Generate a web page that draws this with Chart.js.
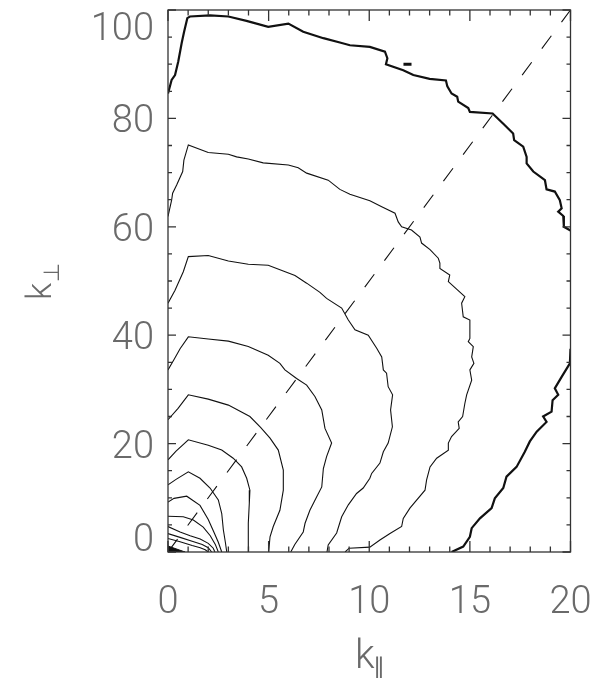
<!DOCTYPE html>
<html>
<head>
<meta charset="utf-8">
<script src="https://cdn.jsdelivr.net/npm/chart.js@4.4.1/dist/chart.umd.min.js"></script>
<style>
  html, body { margin: 0; padding: 0; background: #fff; }
  #wrap { width: 603px; height: 678px; }
</style>
</head>
<body>
<div id="wrap"><canvas id="myChart" width="603" height="678"></canvas></div>
<script>
// tick labels
const xTicks = [0, 5, 10, 15, 20]
const yTicks = [0, 20, 40, 60, 80, 100]

// k_perp = 5 k_par reference line
const diagonal = [[0, 0], [20, 100]]

// thick contours
const thickTop = [[0,84.6],[0.18,87.1],[0.35,88.0],[0.51,90.5],[0.68,93.9],[0.8,96.0],[0.96,98.5],[1.09,98.8],[2.09,99.0],[3.0,98.8],[3.9,98.0],[4.98,96.9],[5.98,97.5],[6.72,96.0],[7.72,94.8],[8.54,94.0],[9.04,93.5],[10.03,93.2],[10.78,92.3],[10.9,91.1],[10.83,90.0],[11.69,88.9],[12.19,88.0],[13.0,87.3],[13.81,87.0],[13.88,85.9],[14.09,84.6],[14.37,84.0],[14.42,83.1],[14.92,81.9],[15.0,81.2],[16.13,80.9],[16.66,79.0],[17.15,77.2],[17.2,76.0],[17.65,74.8],[17.82,72.9],[17.82,71.7],[18.15,70.2],[18.73,68.6],[18.81,66.9],[19.22,66.5],[19.47,64.9],[19.56,63.4],[19.39,62.8],[19.64,62.0],[19.67,60.0],[20,59.3]]
const thickBottom = [[14.09,0],[14.67,1.0],[15.0,2.8],[15.09,4.4],[15.5,6.2],[16.08,8.1],[16.24,9.9],[16.66,11.8],[16.82,13.9],[17.32,15.7],[17.73,18.5],[17.98,20.4],[18.32,22.2],[18.81,24.0],[18.64,25.0],[19.06,25.9],[19.11,28.0],[19.39,29.0],[19.22,30.2],[19.56,32.3],[19.97,34.8],[20,37.5]]
const thickIsland = [[11.7,90.0],[12.1,90.0]]

// thin contours, outer to inner
const contourA = [[0,61.9],[0.18,64.9],[0.23,66.2],[0.43,67.7],[0.73,70.2],[0.79,72.3],[1.01,75.1],[2.0,73.7],[3.0,73.4],[3.41,72.9],[3.99,72.5],[4.73,71.8],[5.98,71.4],[6.47,70.9],[6.89,69.9],[7.96,68.6],[8.54,66.9],[9.04,66.0],[10.03,64.8],[10.62,63.7],[11.28,62.5],[11.44,60.9],[11.61,60.0],[12.1,59.4],[12.52,58.1],[12.6,57.0],[13.02,55.8],[13.43,54.2],[13.51,53.3],[13.51,52.3],[14.0,51.1],[13.93,49.9],[14.75,47.1],[14.59,45.9],[14.67,43.4],[15.0,42.8],[15.0,39.4],[14.92,38.8],[15.17,37.9],[15.09,36.0],[15.2,34.8],[15.0,33.6],[15.09,31.7],[14.84,29.0],[14.75,27.4],[14.64,25.0],[14.42,24.0],[14.47,22.8],[14.09,21.3],[13.93,20.1],[13.93,18.8],[13.35,17.3],[13.02,15.7],[12.85,13.3],[12.77,11.4],[12.02,8.1],[11.69,6.2],[11.61,4.7],[11.03,3.4],[10.53,2.2],[10.03,0.9],[9.0,0.7],[8.8,0]]
const contourB = [[0,45.9],[0.35,48.3],[0.76,51.7],[1.01,54.5],[2.0,54.7],[3.0,53.7],[3.99,53.1],[4.98,52.9],[6.31,51.0],[6.89,49.6],[7.55,47.9],[7.88,46.8],[8.63,45.0],[8.96,42.8],[9.29,41.0],[9.95,40.0],[10.37,37.6],[10.62,36.0],[10.7,33.6],[10.86,33.0],[10.94,30.5],[11.16,29.0],[11.06,26.2],[11.15,23.1],[10.94,20.1],[10.7,18.5],[10.53,16.4],[10.12,14.5],[10.03,13.6],[9.7,11.8],[9.37,10.8],[8.96,8.7],[8.63,6.5],[8.38,3.5],[7.96,1.3],[7.9,0]]
const contourC = [[0,33.6],[0.3,35.5],[0.6,37.5],[1.01,39.7],[2.0,39.3],[3.0,38.9],[3.99,37.9],[4.98,36.3],[5.56,34.8],[5.81,33.6],[6.39,32.0],[6.89,30.8],[7.3,28.7],[7.64,26.2],[7.8,22.8],[8.13,20.1],[7.88,17.6],[7.72,15.4],[7.64,12.0],[7.39,10.2],[7.05,7.7],[6.81,5.3],[6.72,3.7],[6.3,1.4],[6.1,0]]
const contourD = [[0,24.4],[0.5,26.5],[1.01,29.0],[2.0,28.2],[3.0,27.1],[4.07,25.0],[4.6,23.0],[5.07,21.0],[5.48,18.8],[5.73,15.1],[5.73,11.4],[5.56,7.7],[5.23,4.7],[5.07,2.8],[5.0,0]]
const contourE = [[0,17.0],[0.4,18.6],[1.01,20.7],[2.0,19.7],[2.67,18.8],[3.24,17.3],[3.66,15.7],[3.91,13.6],[4.07,11.4],[4.04,9.0],[3.99,5.3],[3.99,0]]
const contourF = [[0,12.4],[0.4,13.4],[1.01,14.8],[1.59,13.6],[2.09,11.8],[2.5,9.6],[2.67,7.1],[2.75,4.1],[2.85,1.8],[2.92,0]]
const contourG = [[0,9.2],[0.3,9.9],[0.93,10.3],[1.59,8.6],[2.0,6.0],[2.3,3.5],[2.5,1.8],[2.67,0]]
const contourH = [[0,6.6],[0.76,6.5],[1.26,5.9],[1.75,4.6],[2.1,3.0],[2.35,1.4],[2.5,0]]
const contourI = [[0,4.7],[0.6,3.7],[1.1,3.0],[1.6,2.4],[2.0,1.6],[2.25,0.7],[2.33,0]]
const contourJ = [[0,3.4],[0.6,2.7],[1.2,2.0],[1.7,1.4],[2.0,0.8],[2.17,0]]
const contourK = [[0,2.5],[0.6,1.9],[1.2,1.2],[1.6,0.8],[1.85,0.4],[2.0,0]]
const originPeak = [[0,0],[0.85,0],[0,1.1],[0,0]]

const toPoints = arr => arr.map(p => ({ x: p[0], y: p[1] }))

function contour(arr, width) {
    return {
        data: toPoints(arr),
        showLine: true,
        borderColor: '#111',
        borderWidth: width,
        pointRadius: 0,
        tension: 0,
        fill: false
    }
}

const thin = [contourA, contourB, contourC, contourD, contourE, contourF, contourG, contourH, contourI, contourJ, contourK]

const datasets = thin.map(c => contour(c, 1.1))
datasets.push(contour(thickTop, 2.2))
datasets.push(contour(thickBottom, 2.2))
datasets.push(contour(thickIsland, 3))
datasets.push(Object.assign(contour(originPeak, 1), { fill: 'shape', backgroundColor: '#111' }))
datasets.push(Object.assign(contour(diagonal, 1.1), { borderDash: [16, 17] }))

// box, inward ticks, labels and axis titles drawn IDL-style
const frame = {
    id: 'frame',
    afterDatasetsDraw(chart) {
        const { ctx, chartArea: a, scales: { x, y } } = chart
        ctx.save()
        ctx.strokeStyle = '#333'
        ctx.lineWidth = 1.3
        ctx.strokeRect(a.left, a.top, a.right - a.left, a.bottom - a.top)
        ctx.beginPath()
        for (let v = 0; v <= 20; v++) {
            const px = x.getPixelForValue(v)
            const len = v % 5 === 0 ? 11 : 5.5
            ctx.moveTo(px, a.bottom); ctx.lineTo(px, a.bottom - len)
            ctx.moveTo(px, a.top); ctx.lineTo(px, a.top + len)
        }
        for (let v = 0; v <= 100; v += 5) {
            const py = y.getPixelForValue(v)
            const len = v % 20 === 0 ? 8 : 4
            ctx.moveTo(a.left, py); ctx.lineTo(a.left + len, py)
            ctx.moveTo(a.right, py); ctx.lineTo(a.right - len, py)
        }
        ctx.stroke()

        ctx.fillStyle = '#6a6a6a'
        ctx.font = '300 38px Roboto, "DejaVu Sans", sans-serif'
        ctx.textBaseline = 'alphabetic'
        const dh = ctx.measureText('0').actualBoundingBoxAscent
        ctx.textAlign = 'center'
        xTicks.forEach(v => ctx.fillText(String(v), x.getPixelForValue(v), a.bottom + 33 + dh))
        ctx.textAlign = 'right'
        yTicks.forEach((v, i) => {
            let base = y.getPixelForValue(v) + dh / 2
            if (i === 0) base = a.bottom - 1
            if (i === yTicks.length - 1) base = a.top + 2 + dh
            ctx.fillText(String(v), a.left - 14, base)
        })

        // x title: k with parallel subscript
        ctx.textAlign = 'left'
        ctx.font = '300 40px Roboto, "DejaVu Sans", sans-serif'
        ctx.fillText('k', 355, 668)
        const kw = ctx.measureText('k').width
        ctx.font = '300 24px "DejaVu Sans", sans-serif'
        ctx.fillText('\u2225', 355 + kw - 2, 675)

        // y title: k with perpendicular subscript, rotated
        ctx.translate(51, 300)
        ctx.rotate(-Math.PI / 2)
        ctx.font = '300 35px Roboto, "DejaVu Sans", sans-serif'
        ctx.fillText('k', 0, 0)
        const kw2 = ctx.measureText('k').width
        ctx.font = '300 22px "DejaVu Sans", sans-serif'
        ctx.fillText('\u22A5', kw2 + 1, 8)
        ctx.restore()
    }
}

new Chart(document.getElementById('myChart'), {
    type: 'scatter',
    data: { datasets },
    options: {
        responsive: false,
        animation: false,
        layout: { padding: { left: 168, top: 10, right: 32.5, bottom: 126 } },
        plugins: { legend: { display: false }, tooltip: { enabled: false } },
        scales: {
            x: { type: 'linear', min: 0, max: 20, display: false },
            y: { type: 'linear', min: 0, max: 100, display: false }
        }
    },
    plugins: [frame]
})
</script>
</body>
</html>
